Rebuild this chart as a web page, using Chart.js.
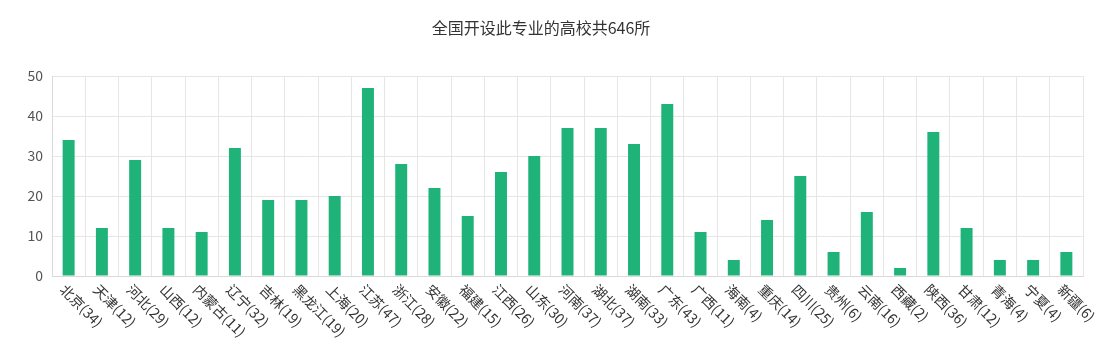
<!DOCTYPE html>
<html><head><meta charset="utf-8">
<script src="https://cdn.jsdelivr.net/npm/chart.js@4/dist/chart.umd.min.js"></script>
<style>html,body{margin:0;padding:0;background:#fff}#wrap{width:1111px;height:343px;position:relative}</style>
</head><body><div id="wrap"><canvas id="c" width="1111" height="343"></canvas></div>
<script>
const titleText = '全国开设此专业的高校共646所';
const provinces = ['北京','天津','河北','山西','内蒙古','辽宁','吉林','黑龙江','上海','江苏','浙江','安徽','福建','江西','山东','河南','湖北','湖南','广东','广西','海南','重庆','四川','贵州','云南','西藏','陕西','甘肃','青海','宁夏','新疆'];
const counts = [34,12,29,12,11,32,19,19,20,47,28,22,15,26,30,37,37,33,43,11,4,14,25,6,16,2,36,12,4,4,6];
const categories = provinces.map((p,i)=>p+'('+counts[i]+')');
const yTicks = [0,10,20,30,40,50];

const FONT = '"Noto Sans CJK SC", "Noto Sans", sans-serif';

const labelPlugin = {
  id:'rotLabels',
  afterDraw(chart){
    const ctx = chart.ctx, xs = chart.scales.x;
    ctx.save();
    ctx.font = '14px ' + FONT;
    ctx.fillStyle = '#333';
    ctx.textAlign = 'left';
    ctx.textBaseline = 'middle';
    categories.forEach((lab,i)=>{
      const x = xs.getPixelForTick(i);
      ctx.save();
      ctx.translate(x - 6, xs.top + 11);
      ctx.rotate(Math.PI/4);
      ctx.fillText(lab, 0, 0);
      ctx.restore();
    });
    ctx.fillStyle = '#333';
    ctx.font = '16px ' + FONT;
    ctx.textAlign = 'center';
    ctx.fillText(titleText, 541, 28);
    ctx.restore();
  }
};

new Chart(document.getElementById('c'), {
  type:'bar',
  data:{labels:categories, datasets:[{data:counts, backgroundColor:'#1fb37a', barPercentage:0.36, categoryPercentage:1}]},
  options:{
    responsive:false, animation:false,
    layout:{padding:{top:76,bottom:67,left:0,right:28}},
    plugins:{legend:{display:false}, tooltip:{enabled:false}, title:{display:false}},
    scales:{
      x:{grid:{color:'#e6e6e6', offset:true, drawTicks:false}, border:{color:'#d9d9d9'}, ticks:{display:false}},
      y:{min:0,max:50, afterFit(s){s.width=52;}, afterBuildTicks(s){s.ticks=yTicks.map(v=>({value:v}));},
         grid:{color:'#e6e6e6', drawTicks:false}, border:{color:'#d9d9d9'},
         ticks:{padding:9, color:'#555', font:{size:14, family:FONT}}}
    }
  },
  plugins:[labelPlugin]
});
</script></body></html>
